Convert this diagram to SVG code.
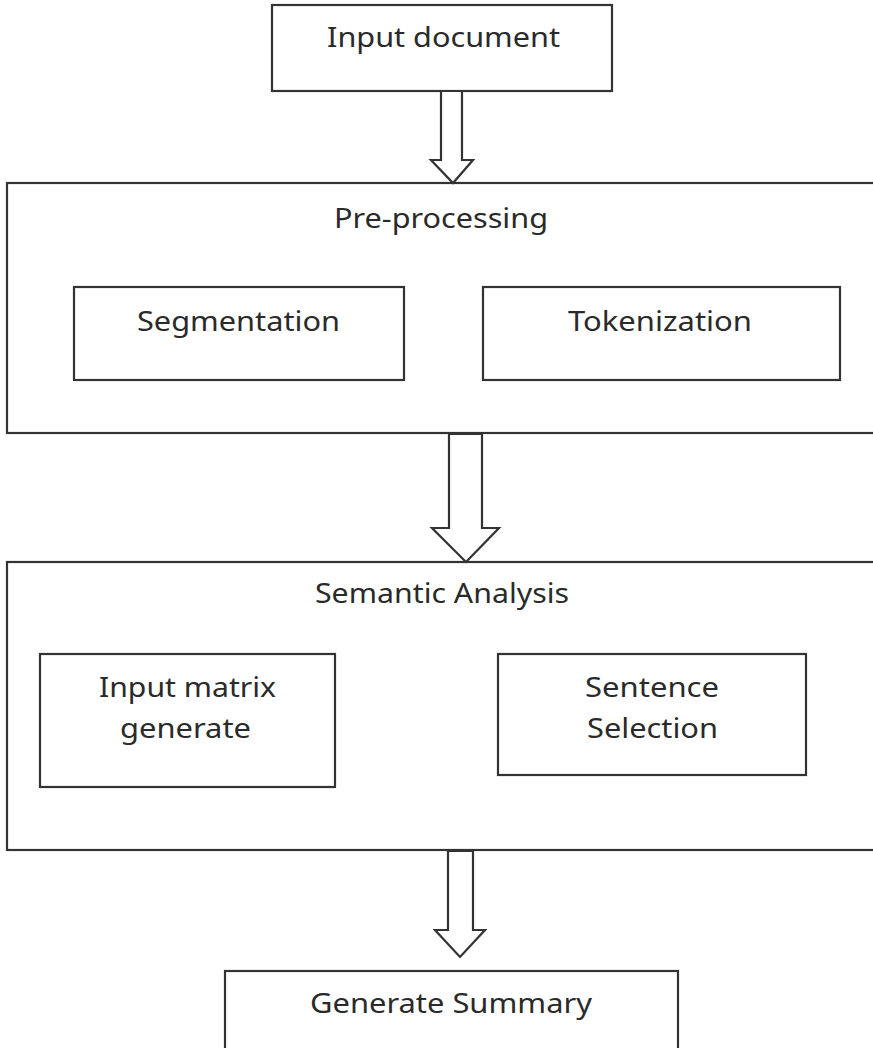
<svg xmlns="http://www.w3.org/2000/svg" width="873" height="1048" viewBox="0 0 873 1048">
  <style>
    .box { fill: #ffffff; stroke: #333333; stroke-width: 2.2; }
    .arrow { fill: #ffffff; stroke: #333333; stroke-width: 2.2; stroke-linejoin: miter; }
    .lbl { font-family: "Noto Sans", "Liberation Sans", sans-serif; font-size: 27px; fill: #2a2a2a; }
  </style>
  <rect width="873" height="1048" fill="#ffffff"/>

  <g id="input-document">
    <rect class="box" x="272" y="5" width="340" height="86"/>
    <text class="lbl" x="327" y="47" textLength="233" lengthAdjust="spacingAndGlyphs">Input document</text>
  </g>

  <g id="pre-processing">
    <rect class="box" x="7" y="183" width="880" height="250"/>
    <text class="lbl" x="334" y="228" textLength="214" lengthAdjust="spacingAndGlyphs">Pre-processing</text>
  </g>
  <g id="segmentation">
    <rect class="box" x="74" y="287" width="330" height="93"/>
    <text class="lbl" x="137" y="331" textLength="203" lengthAdjust="spacingAndGlyphs">Segmentation</text>
  </g>
  <g id="tokenization">
    <rect class="box" x="483" y="287" width="357" height="93"/>
    <text class="lbl" x="568" y="331" textLength="184" lengthAdjust="spacingAndGlyphs">Tokenization</text>
  </g>

  <g id="semantic-analysis">
    <rect class="box" x="7" y="562" width="880" height="288"/>
    <text class="lbl" x="315" y="603" textLength="254" lengthAdjust="spacingAndGlyphs">Semantic Analysis</text>
  </g>
  <g id="input-matrix-generate">
    <rect class="box" x="40" y="654" width="295" height="133"/>
    <text class="lbl" x="99" y="697" textLength="177" lengthAdjust="spacingAndGlyphs">Input matrix</text>
    <text class="lbl" x="120" y="738" textLength="131" lengthAdjust="spacingAndGlyphs">generate</text>
  </g>
  <g id="sentence-selection">
    <rect class="box" x="498" y="654" width="308" height="121"/>
    <text class="lbl" x="585" y="697" textLength="134" lengthAdjust="spacingAndGlyphs">Sentence</text>
    <text class="lbl" x="587" y="738" textLength="131" lengthAdjust="spacingAndGlyphs">Selection</text>
  </g>

  <g id="generate-summary">
    <rect class="box" x="225" y="971" width="453" height="90"/>
    <text class="lbl" x="310" y="1013" textLength="282" lengthAdjust="spacingAndGlyphs">Generate Summary</text>
  </g>

  <!-- block arrows between stages -->
  <g id="connectors">
    <path class="arrow" d="M441 91 V160 H431 L453 183 L473 160 H462 V91 Z"/>
    <path class="arrow" d="M449 434 V528 H432 L466 562 L499 528 H482 V434 Z"/>
    <path class="arrow" d="M448 851 V930 H435 L460 957 L485 930 H473 V851 Z"/>
  </g>
</svg>
